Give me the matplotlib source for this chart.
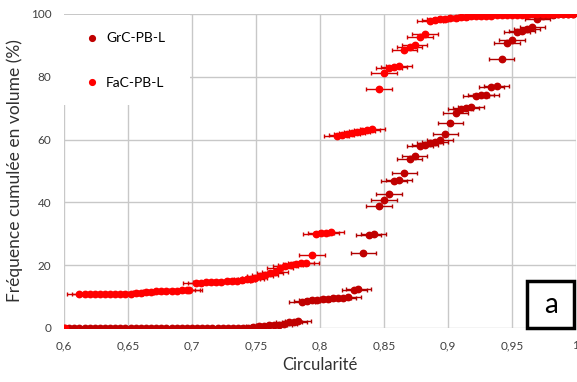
import numpy as np
import matplotlib.pyplot as plt
from matplotlib.patches import Rectangle

plt.rcParams['font.family'] = ['Lato', 'DejaVu Sans']

# ---- data ----
gr_x = [0.600, 0.604, 0.608, 0.612, 0.616, 0.620, 0.624, 0.628, 0.632, 0.636,
        0.640, 0.644, 0.648, 0.652, 0.656, 0.660, 0.664, 0.668, 0.672, 0.676,
        0.680, 0.684, 0.688, 0.692, 0.696, 0.700, 0.704, 0.708, 0.712, 0.716,
        0.720, 0.724, 0.728, 0.732, 0.736, 0.740, 0.744,
        0.748, 0.752, 0.756, 0.760, 0.764, 0.768, 0.772, 0.776, 0.780, 0.783,
        0.786, 0.790, 0.794, 0.798, 0.802, 0.806, 0.810, 0.814, 0.818, 0.822,
        0.827, 0.830, 0.834, 0.838, 0.842, 0.846, 0.850, 0.854, 0.858, 0.862,
        0.866, 0.870, 0.874, 0.878, 0.882, 0.886, 0.890, 0.894, 0.898, 0.902,
        0.906, 0.910, 0.914, 0.918, 0.922, 0.926, 0.930, 0.934, 0.938, 0.942,
        0.946, 0.950, 0.954, 0.958, 0.962, 0.966, 0.970, 0.974, 0.978, 0.982,
        0.986, 0.990, 0.994, 0.998]
gr_y = [0, 0, 0, 0, 0, 0, 0, 0, 0, 0,
        0, 0, 0, 0, 0, 0, 0, 0, 0, 0,
        0, 0, 0, 0, 0, 0, 0, 0, 0, 0,
        0, 0, 0, 0, 0, 0, 0,
        0.3, 0.6, 0.7, 0.8, 0.9, 1.0, 1.2, 1.9, 2.0, 2.1,
        8.3, 8.6, 8.8, 9.0, 9.1, 9.3, 9.4, 9.5, 9.7, 9.8,
        12.2, 12.4, 24.0, 29.6, 29.9, 38.9, 40.8, 42.6, 46.7, 47.1,
        49.4, 53.7, 54.8, 58.1, 58.4, 58.8, 59.3, 59.9, 61.8, 65.2,
        68.6, 69.7, 70.2, 70.3, 73.9, 74.2, 74.3, 76.6, 77.2, 85.6,
        90.9, 91.7, 94.4, 94.7, 95.1, 95.9, 98.3, 99.3, 99.6, 99.8,
        99.9, 100, 100, 100]

fa_x = [0.601,
        0.612, 0.616, 0.620, 0.624, 0.628, 0.632, 0.636, 0.640, 0.644, 0.648,
        0.652, 0.656, 0.660,
        0.664, 0.668, 0.672, 0.676, 0.680, 0.684, 0.688, 0.692, 0.696, 0.698,
        0.703, 0.707, 0.711, 0.715, 0.719, 0.723, 0.727, 0.731, 0.735, 0.739,
        0.743, 0.746, 0.749, 0.753, 0.757, 0.761, 0.765, 0.769, 0.773, 0.777,
        0.781, 0.785, 0.789, 0.794, 0.797, 0.801, 0.805, 0.809,
        0.813, 0.817, 0.821, 0.825, 0.829, 0.833, 0.837, 0.841,
        0.846, 0.850, 0.854, 0.858, 0.862, 0.866, 0.870, 0.874, 0.878, 0.882,
        0.886, 0.890, 0.894, 0.898, 0.902, 0.906, 0.910, 0.914, 0.918, 0.922,
        0.926, 0.930, 0.934, 0.938, 0.942, 0.946, 0.950, 0.954, 0.958, 0.962,
        0.966, 0.970, 0.974, 0.978, 0.982, 0.986, 0.990, 0.994, 0.998]
fa_y = [0,
        10.8, 10.8, 10.8, 10.8, 10.8, 10.8, 10.9, 10.9, 10.9, 10.9,
        10.9, 11.0, 11.0,
        11.5, 11.6, 11.7, 11.7, 11.8, 11.9, 11.9, 12.0, 12.1, 12.1,
        14.3, 14.4, 14.5, 14.6, 14.7, 14.8, 14.9, 15.0, 15.1, 15.3,
        15.5, 15.6, 15.8, 16.4, 16.9, 17.4, 17.9, 19.1, 19.8, 20.2,
        20.4, 20.6, 20.8, 23.2, 29.9, 30.1, 30.3, 30.5,
        61.2, 61.5, 61.8, 62.0, 62.3, 62.6, 62.9, 63.3,
        76.1, 81.3, 82.9, 83.1, 83.4, 88.5, 89.6, 90.2, 92.8, 93.5,
        97.9, 98.1, 98.3, 98.5, 98.6, 98.8, 98.9, 99.1, 99.2, 99.3,
        99.4, 99.5, 99.5, 99.6, 99.6, 99.7, 99.7, 99.8, 99.8, 99.8,
        99.9, 99.9, 99.9, 99.9, 100, 100, 100, 100, 100]

x_err = 0.01
labels = ['GrC-PB-L', 'FaC-PB-L']
xticks = [0.6, 0.65, 0.7, 0.75, 0.8, 0.85, 0.9, 0.95, 1.0]
xtick_labels = ['0,6', '0,65', '0,7', '0,75', '0,8', '0,85', '0,9', '0,95', '1']
yticks = [0, 20, 40, 60, 80, 100]

# ---- figure ----
fig = plt.figure(figsize=(5.77, 3.82), dpi=100)
ax = fig.add_axes([0.111, 0.1414, 0.887, 0.822])

eb1 = ax.errorbar(gr_x, gr_y, xerr=x_err, fmt='o', color='#C00000', ecolor='#B00000',
                  markersize=4.6, elinewidth=1, capsize=1.5, capthick=1, zorder=3)
eb2 = ax.errorbar(fa_x, fa_y, xerr=x_err, fmt='o', color='#FF0000', ecolor='#D00000',
                  markersize=4.6, elinewidth=1, capsize=1.5, capthick=1, zorder=4)

ax.set_xlim(0.6, 1.0)
ax.set_ylim(0, 100)
ax.set_xticks(xticks)
ax.set_xticklabels(xtick_labels)
ax.set_yticks(yticks)
ax.grid(True, color='#C8C8C8', linewidth=1)
ax.set_axisbelow(True)
for s in ax.spines.values():
    s.set_visible(False)
ax.tick_params(length=0, labelsize=8.5, colors='#404040', pad=9)

ax.set_xlabel('Circularité', fontsize=12, color='#303030', labelpad=4)
ax.set_ylabel('Fréquence cumulée en volume (%)', fontsize=12.5, color='#303030', labelpad=6)

# white legend area hiding the grid, like the original
ax.add_patch(Rectangle((0, 0.71), 0.246, 0.287, transform=ax.transAxes,
                       facecolor='white', edgecolor='none', zorder=2))
# legend shows only the dots
leg = ax.legend([eb1.lines[0], eb2.lines[0]], labels, loc='upper left',
                bbox_to_anchor=(0.025, 0.972), frameon=False,
                fontsize=10, labelspacing=2.35, handlelength=0.8, handletextpad=0.6,
                borderpad=0.2, markerscale=0.9)

# "a" label box
ax.add_patch(Rectangle((0.904, 0.0), 0.093, 0.15, transform=ax.transAxes,
                       facecolor='white', edgecolor='black', linewidth=2.5,
                       zorder=6, clip_on=False))
ax.text(0.9505, 0.072, 'a', transform=ax.transAxes, ha='center', va='center',
        fontsize=20, color='black', zorder=7)

fig.savefig('out.png', dpi=100)
